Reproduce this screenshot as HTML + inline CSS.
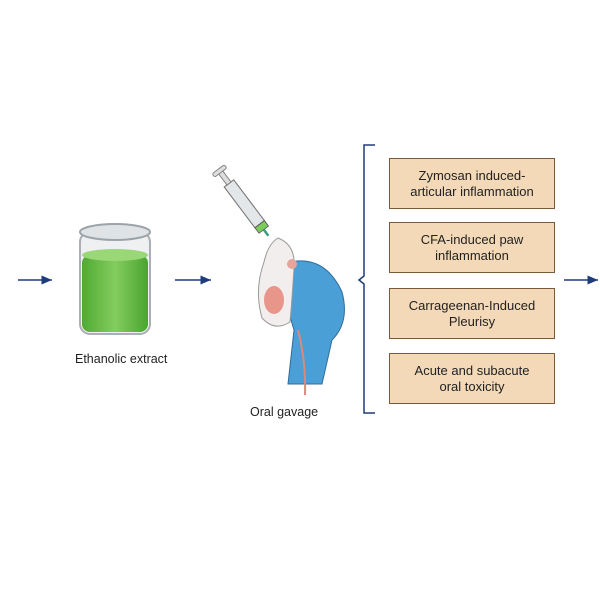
<!DOCTYPE html>
<html><head><meta charset="utf-8"><style>
html,body{margin:0;padding:0;background:#fff;}
body{width:600px;height:600px;position:relative;overflow:hidden;font-family:"Liberation Sans",sans-serif;color:#222;}
.box{position:absolute;left:389px;width:166px;height:51px;background:#f3d9b8;border:1.5px solid #7b5a3c;box-sizing:border-box;display:flex;align-items:center;justify-content:center;text-align:center;font-size:13px;line-height:16px;}
.lbl{position:absolute;font-size:12.5px;}
</style></head><body>
<svg width="600" height="600" style="position:absolute;left:0;top:0">
<defs><marker id="a" markerWidth="8" markerHeight="8" refX="7" refY="4" orient="auto"><path d="M0,1 L7,4 L0,7 Z" fill="#1f3c7a"/></marker>
<linearGradient id="g" x1="0" x2="1"><stop offset="0" stop-color="#4faa33"/><stop offset="0.5" stop-color="#84cc5e"/><stop offset="1" stop-color="#4aa530"/></linearGradient></defs>
<g stroke="#1f3c7a" stroke-width="1.5" fill="none">
<line x1="18" y1="280" x2="52" y2="280" marker-end="url(#a)"/>
<line x1="175" y1="280" x2="211" y2="280" marker-end="url(#a)"/>
<line x1="564" y1="280" x2="598" y2="280" marker-end="url(#a)"/>
<path d="M375,145 L364,145 L364,276 L359,280 L364,284 L364,413 L375,413"/>
</g>
<rect x="80" y="232" width="70" height="102" rx="10" fill="#eef0f2" stroke="#a9afb5" stroke-width="2"/>
<rect x="82" y="255" width="66" height="77" rx="8" fill="url(#g)"/>
<ellipse cx="115" cy="255" rx="33" ry="6" fill="#9ad877"/>
<ellipse cx="115" cy="232" rx="35" ry="8" fill="#dfe3e6" stroke="#9ca3a9" stroke-width="2"/>
<g transform="translate(252,214) rotate(53) scale(0.85)">
<rect x="-45" y="-7" width="60" height="14" fill="#e4e7ea" stroke="#777" stroke-width="1.3"/>
<rect x="-62" y="-3" width="17" height="6" fill="#ddd" stroke="#777"/>
<rect x="-66" y="-9" width="5" height="18" rx="2" fill="#ddd" stroke="#777"/>
<rect x="15" y="-7" width="8" height="14" fill="#7ccc5c" stroke="#555"/>
<line x1="23" y1="0" x2="32" y2="0" stroke="#3aa07a" stroke-width="3"/>
</g>
<path d="M290,262 Q325,255 342,292 Q350,322 332,340 L322,384 L288,384 L294,330 Q282,295 290,262 Z" fill="#4a9fd6" stroke="#2f6d9a" stroke-width="1"/>
<path d="M278,238 Q296,245 294,268 Q292,300 290,322 Q275,332 262,318 Q254,290 264,262 Q268,244 278,238 Z" fill="#f3eeee" stroke="#999"/>
<ellipse cx="274" cy="300" rx="10" ry="14" fill="#e8958a"/>
<circle cx="292" cy="264" r="5" fill="#e8a39a"/>
<path d="M298,330 Q306,360 305,395" stroke="#d98a7f" stroke-width="2" fill="none"/>
</svg>
<div class="lbl" style="left:75px;top:352px">Ethanolic extract</div>
<div class="lbl" style="left:250px;top:405px">Oral gavage</div>
<div class="box" style="top:158px">Zymosan induced-<br>articular inflammation</div>
<div class="box" style="top:222px">CFA-induced paw<br>inflammation</div>
<div class="box" style="top:288px">Carrageenan-Induced<br>Pleurisy</div>
<div class="box" style="top:353px">Acute and subacute<br>oral toxicity</div>
</body></html>
